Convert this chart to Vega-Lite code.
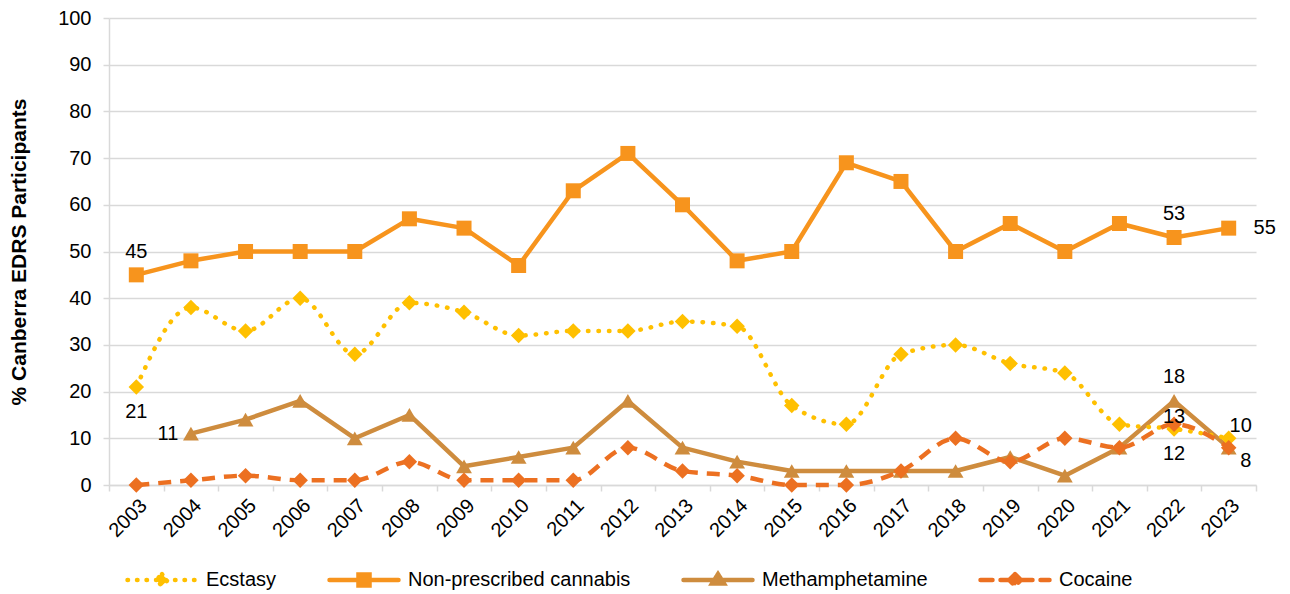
{
  "$schema": "https://vega.github.io/schema/vega-lite/v6.json",
  "autosize": {"type": "none"},
  "width": 1147,
  "height": 467,
  "padding": {"left": 109, "top": 18, "right": 34, "bottom": 109},
  "background": "white",
  "config": {
    "font": "Liberation Sans",
    "view": {"stroke": null},
    "axis": {"labelFont": "Liberation Sans", "titleFont": "Liberation Sans", "labelColor": "#000000", "titleColor": "#000000"}
  },
  "data": {"values": [
    {"year": 2003, "series": "Ecstasy", "value": 21},
    {"year": 2004, "series": "Ecstasy", "value": 38},
    {"year": 2005, "series": "Ecstasy", "value": 33},
    {"year": 2006, "series": "Ecstasy", "value": 40},
    {"year": 2007, "series": "Ecstasy", "value": 28},
    {"year": 2008, "series": "Ecstasy", "value": 39},
    {"year": 2009, "series": "Ecstasy", "value": 37},
    {"year": 2010, "series": "Ecstasy", "value": 32},
    {"year": 2011, "series": "Ecstasy", "value": 33},
    {"year": 2012, "series": "Ecstasy", "value": 33},
    {"year": 2013, "series": "Ecstasy", "value": 35},
    {"year": 2014, "series": "Ecstasy", "value": 34},
    {"year": 2015, "series": "Ecstasy", "value": 17},
    {"year": 2016, "series": "Ecstasy", "value": 13},
    {"year": 2017, "series": "Ecstasy", "value": 28},
    {"year": 2018, "series": "Ecstasy", "value": 30},
    {"year": 2019, "series": "Ecstasy", "value": 26},
    {"year": 2020, "series": "Ecstasy", "value": 24},
    {"year": 2021, "series": "Ecstasy", "value": 13},
    {"year": 2022, "series": "Ecstasy", "value": 12},
    {"year": 2023, "series": "Ecstasy", "value": 10},
    {"year": 2003, "series": "Non-prescribed cannabis", "value": 45},
    {"year": 2004, "series": "Non-prescribed cannabis", "value": 48},
    {"year": 2005, "series": "Non-prescribed cannabis", "value": 50},
    {"year": 2006, "series": "Non-prescribed cannabis", "value": 50},
    {"year": 2007, "series": "Non-prescribed cannabis", "value": 50},
    {"year": 2008, "series": "Non-prescribed cannabis", "value": 57},
    {"year": 2009, "series": "Non-prescribed cannabis", "value": 55},
    {"year": 2010, "series": "Non-prescribed cannabis", "value": 47},
    {"year": 2011, "series": "Non-prescribed cannabis", "value": 63},
    {"year": 2012, "series": "Non-prescribed cannabis", "value": 71},
    {"year": 2013, "series": "Non-prescribed cannabis", "value": 60},
    {"year": 2014, "series": "Non-prescribed cannabis", "value": 48},
    {"year": 2015, "series": "Non-prescribed cannabis", "value": 50},
    {"year": 2016, "series": "Non-prescribed cannabis", "value": 69},
    {"year": 2017, "series": "Non-prescribed cannabis", "value": 65},
    {"year": 2018, "series": "Non-prescribed cannabis", "value": 50},
    {"year": 2019, "series": "Non-prescribed cannabis", "value": 56},
    {"year": 2020, "series": "Non-prescribed cannabis", "value": 50},
    {"year": 2021, "series": "Non-prescribed cannabis", "value": 56},
    {"year": 2022, "series": "Non-prescribed cannabis", "value": 53},
    {"year": 2023, "series": "Non-prescribed cannabis", "value": 55},
    {"year": 2004, "series": "Methamphetamine", "value": 11},
    {"year": 2005, "series": "Methamphetamine", "value": 14},
    {"year": 2006, "series": "Methamphetamine", "value": 18},
    {"year": 2007, "series": "Methamphetamine", "value": 10},
    {"year": 2008, "series": "Methamphetamine", "value": 15},
    {"year": 2009, "series": "Methamphetamine", "value": 4},
    {"year": 2010, "series": "Methamphetamine", "value": 6},
    {"year": 2011, "series": "Methamphetamine", "value": 8},
    {"year": 2012, "series": "Methamphetamine", "value": 18},
    {"year": 2013, "series": "Methamphetamine", "value": 8},
    {"year": 2014, "series": "Methamphetamine", "value": 5},
    {"year": 2015, "series": "Methamphetamine", "value": 3},
    {"year": 2016, "series": "Methamphetamine", "value": 3},
    {"year": 2017, "series": "Methamphetamine", "value": 3},
    {"year": 2018, "series": "Methamphetamine", "value": 3},
    {"year": 2019, "series": "Methamphetamine", "value": 6},
    {"year": 2020, "series": "Methamphetamine", "value": 2},
    {"year": 2021, "series": "Methamphetamine", "value": 8},
    {"year": 2022, "series": "Methamphetamine", "value": 18},
    {"year": 2023, "series": "Methamphetamine", "value": 8},
    {"year": 2003, "series": "Cocaine", "value": 0},
    {"year": 2004, "series": "Cocaine", "value": 1},
    {"year": 2005, "series": "Cocaine", "value": 2},
    {"year": 2006, "series": "Cocaine", "value": 1},
    {"year": 2007, "series": "Cocaine", "value": 1},
    {"year": 2008, "series": "Cocaine", "value": 5},
    {"year": 2009, "series": "Cocaine", "value": 1},
    {"year": 2010, "series": "Cocaine", "value": 1},
    {"year": 2011, "series": "Cocaine", "value": 1},
    {"year": 2012, "series": "Cocaine", "value": 8},
    {"year": 2013, "series": "Cocaine", "value": 3},
    {"year": 2014, "series": "Cocaine", "value": 2},
    {"year": 2015, "series": "Cocaine", "value": 0},
    {"year": 2016, "series": "Cocaine", "value": 0},
    {"year": 2017, "series": "Cocaine", "value": 3},
    {"year": 2018, "series": "Cocaine", "value": 10},
    {"year": 2019, "series": "Cocaine", "value": 5},
    {"year": 2020, "series": "Cocaine", "value": 10},
    {"year": 2021, "series": "Cocaine", "value": 8},
    {"year": 2022, "series": "Cocaine", "value": 13},
    {"year": 2023, "series": "Cocaine", "value": 8}
  ]},
  "encoding": {
    "x": {
      "field": "year", "type": "ordinal", "bandPosition": 0.5,
      "scale": {"type": "band", "paddingInner": 0, "paddingOuter": 0},
      "axis": {
        "title": null, "labelAngle": -45, "labelFontSize": 20, "labelPadding": 4,
        "domainColor": "#d9d9d9", "domainWidth": 1.5, "tickColor": "#d9d9d9", "tickSize": 6, "tickWidth": 1.5,
        "tickBand": "extent", "grid": false
      }
    },
    "y": {
      "field": "value", "type": "quantitative",
      "scale": {"domain": [0, 100], "nice": false},
      "axis": {
        "title": "% Canberra EDRS Participants", "titleFontSize": 21, "titleFontWeight": "bold", "titlePadding": 28,
        "values": [0, 10, 20, 30, 40, 50, 60, 70, 80, 90, 100],
        "labelFontSize": 20, "labelPadding": 12,
        "grid": true, "gridColor": "#d9d9d9", "gridWidth": 1.5,
        "domainColor": "#d9d9d9", "domainWidth": 1.5, "tickColor": "#d9d9d9", "tickSize": 6, "tickWidth": 1.5
      }
    }
  },
  "layer": [
    {
      "transform": [{"filter": "datum.series === 'Methamphetamine'"}],
      "mark": {"type": "line", "strokeWidth": 4.5, "strokeJoin": "round"},
      "encoding": {
        "color": {
          "field": "series", "type": "nominal",
          "scale": {"domain": ["Ecstasy", "Non-prescribed cannabis", "Methamphetamine", "Cocaine"], "range": ["#FFC000", "#F7941D", "#CE8C3E", "#EC7021"]},
          "legend": {
            "title": null, "orient": "none", "legendX": 16, "legendY": 525, "direction": "horizontal",
            "gridAlign": "none", "columnPadding": 43, "labelFontSize": 20, "labelColor": "#000000", "labelOffset": 7, "labelLimit": 0,
            "symbolSize": 4761, "symbolStrokeWidth": 4.5,
            "encode": {"symbols": {"update": {
              "shape": {"signal": "datum.value === 'Ecstasy' || datum.value === 'Cocaine' ? 'M-1,0L1,0M0,-0.17L0.17,0L0,0.17L-0.17,0Z' : datum.value === 'Methamphetamine' ? 'M-1,0L1,0M0,-0.17L0.17,0.1L-0.17,0.1Z' : 'M-1,0L1,0M-0.16,-0.16L0.16,-0.16L0.16,0.16L-0.16,0.16Z'"},
              "size": {"value": 4761},
              "strokeDash": {"signal": "datum.value === 'Ecstasy' ? [0.5, 9] : datum.value === 'Cocaine' ? [12, 8] : [1, 0]"},
              "fill": {"signal": "scale('color', datum.value)"},
              "stroke": {"signal": "scale('color', datum.value)"},
              "strokeCap": {"value": "round"},
              "strokeWidth": {"value": 4.5},
              "opacity": {"value": 1}
            }}}
          }
        }
      }
    },
    {
      "transform": [{"filter": "datum.series === 'Non-prescribed cannabis'"}],
      "mark": {"type": "line", "strokeWidth": 4.5, "strokeJoin": "round"},
      "encoding": {"color": {"field": "series", "type": "nominal"}}
    },
    {
      "transform": [{"filter": "datum.series === 'Ecstasy'"}],
      "mark": {"type": "line", "strokeWidth": 4.5, "interpolate": "monotone", "strokeDash": [0.5, 10], "strokeCap": "round"},
      "encoding": {"color": {"field": "series", "type": "nominal"}}
    },
    {
      "transform": [{"filter": "datum.series === 'Cocaine'"}],
      "mark": {"type": "line", "strokeWidth": 4.5, "interpolate": "monotone", "strokeDash": [13, 9]},
      "encoding": {"color": {"field": "series", "type": "nominal"}}
    },
    {
      "transform": [{"filter": "datum.series === 'Methamphetamine'"}],
      "mark": {"type": "point", "filled": true, "opacity": 1, "shape": "triangle-up", "size": 250, "color": "#CE8C3E"},
      "encoding": {}
    },
    {
      "transform": [{"filter": "datum.series === 'Non-prescribed cannabis'"}],
      "mark": {"type": "point", "filled": true, "opacity": 1, "shape": "square", "size": 225, "color": "#F7941D"},
      "encoding": {}
    },
    {
      "transform": [{"filter": "datum.series === 'Ecstasy'"}],
      "mark": {"type": "point", "filled": true, "opacity": 1, "shape": "diamond", "size": 240, "color": "#FFC000"},
      "encoding": {}
    },
    {
      "transform": [{"filter": "datum.series === 'Cocaine'"}],
      "mark": {"type": "point", "filled": true, "opacity": 1, "shape": "diamond", "size": 240, "color": "#EC7021"},
      "encoding": {}
    },
    {
      "transform": [{"filter": "datum.series === 'Non-prescribed cannabis' && (datum.year === 2003 || datum.year === 2022)"}],
      "mark": {"type": "text", "fontSize": 20, "color": "#000000", "dy": -23},
      "encoding": {"text": {"field": "value", "type": "quantitative"}}
    },
    {
      "transform": [{"filter": "datum.series === 'Non-prescribed cannabis' && datum.year === 2023"}],
      "mark": {"type": "text", "fontSize": 20, "color": "#000000", "dx": 36},
      "encoding": {"text": {"field": "value", "type": "quantitative"}}
    },
    {
      "transform": [{"filter": "datum.series === 'Ecstasy' && (datum.year === 2003 || datum.year === 2022)"}],
      "mark": {"type": "text", "fontSize": 20, "color": "#000000", "dy": 25},
      "encoding": {"text": {"field": "value", "type": "quantitative"}}
    },
    {
      "transform": [{"filter": "datum.series === 'Ecstasy' && datum.year === 2023"}],
      "mark": {"type": "text", "fontSize": 20, "color": "#000000", "dx": 12, "dy": -12},
      "encoding": {"text": {"field": "value", "type": "quantitative"}}
    },
    {
      "transform": [{"filter": "datum.series === 'Methamphetamine' && datum.year === 2004"}],
      "mark": {"type": "text", "fontSize": 20, "color": "#000000", "dx": -23},
      "encoding": {"text": {"field": "value", "type": "quantitative"}}
    },
    {
      "transform": [{"filter": "datum.series === 'Methamphetamine' && datum.year === 2022"}],
      "mark": {"type": "text", "fontSize": 20, "color": "#000000", "dy": -24},
      "encoding": {"text": {"field": "value", "type": "quantitative"}}
    },
    {
      "transform": [{"filter": "datum.series === 'Cocaine' && datum.year === 2022"}],
      "mark": {"type": "text", "fontSize": 20, "color": "#000000", "dy": -7},
      "encoding": {"text": {"field": "value", "type": "quantitative"}}
    },
    {
      "transform": [{"filter": "datum.series === 'Cocaine' && datum.year === 2023"}],
      "mark": {"type": "text", "fontSize": 20, "color": "#000000", "dx": 17, "dy": 13},
      "encoding": {"text": {"field": "value", "type": "quantitative"}}
    }
  ]
}
